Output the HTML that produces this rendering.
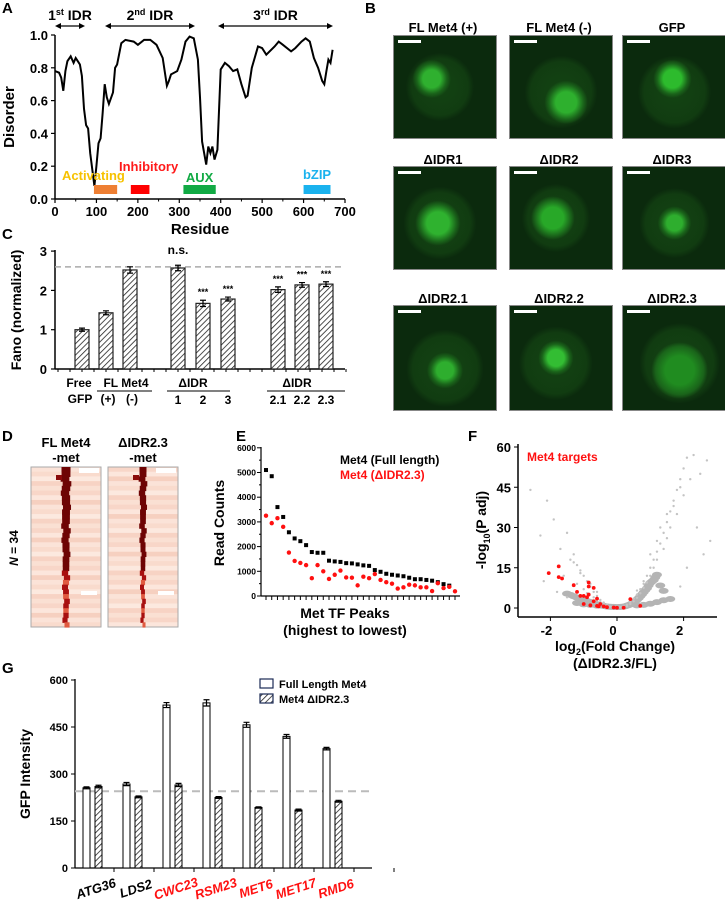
<!DOCTYPE html>
<html><head><meta charset="utf-8">
<style>
html,body{margin:0;padding:0;background:#fff;}
#root{position:relative;width:725px;height:900px;overflow:hidden;font-family:"Liberation Sans",Arial,sans-serif;font-weight:bold;}
.lbl{position:absolute;font-size:15px;font-weight:bold;}
.mic{position:absolute;background:#0c2e0f;border:1px solid #888;overflow:hidden;}
.mic .bar{position:absolute;left:4px;top:4px;width:23px;height:3px;background:#fff;}
.mtitle{position:absolute;font-size:13px;font-weight:bold;text-align:center;width:110px;}
svg text{font-family:"Liberation Sans",Arial,sans-serif;font-weight:bold;}
</style></head>
<body>
<div id="root">
<svg id="svg" width="725" height="900" style="position:absolute;left:0;top:0"></svg>

<div class="lbl" style="left:2px;top:0px">A</div>
<div class="lbl" style="left:365px;top:0px">B</div>
<div class="lbl" style="left:2px;top:226px">C</div>
<div class="lbl" style="left:2px;top:428px">D</div>
<div class="lbl" style="left:236px;top:428px">E</div>
<div class="lbl" style="left:468px;top:428px">F</div>
<div class="lbl" style="left:2px;top:660px">G</div>
<div id="micro"></div>
</div>
<script>
// ---------- DATA ----------
// Panel A
const disorderResidues=[0,10,15,20,25,30,38,45,50,55,60,65,70,75,80,85,90,95,100,105,110,115,120,125,130,140,145,150,160,170,190,200,215,230,245,260,270,275,280,295,305,315,325,335,345,350,355,365,370,375,380,385,392,400,410,420,430,440,450,460,465,475,490,500,510,530,540,550,570,580,595,605,615,625,635,645,650,655,660,665,670];
const disorderValues=[.78,.77,.74,.66,.78,.84,.87,.83,.86,.84,.82,.75,.55,.45,.43,.28,.18,.08,.20,.34,.37,.52,.70,.62,.58,.65,.80,.82,.95,.97,.96,.94,.97,.97,.94,.86,.69,.72,.76,.78,.85,.96,.99,.98,.85,.62,.35,.21,.32,.28,.32,.24,.30,.79,.83,.81,.78,.79,.70,.62,.63,.80,.93,.92,.88,.93,.96,.94,.90,.92,.96,.98,.96,.86,.80,.72,.70,.78,.85,.83,.91];
const domainNames=["Activating","Inhibitory","AUX","bZIP"];
const domainStart=[94,183,310,600];
const domainEnd=[150,228,388,665];
const aXTicks=[0,100,200,300,400,500,600,700];
const aYTicks=[0,0.2,0.4,0.6,0.8,1.0];
// Panel C
const fanoValues=[1.0,1.43,2.52,2.57,1.67,1.78,2.02,2.14,2.16];
const fanoErrors=[0.04,0.05,0.08,0.07,0.08,0.05,0.07,0.06,0.06];
const fanoStars=["","","","n.s.","***","***","***","***","***"];
const cYTicks=[0,1,2,3];
// Panel E
const eBlack=[5100,4850,3600,3200,2580,2330,2220,2060,1780,1750,1750,1430,1400,1380,1330,1320,1280,1240,1220,1050,980,900,860,830,800,740,680,680,650,620,560,480,420];
const eRed=[3250,2950,3150,2800,1760,1420,1340,1250,720,1250,1000,690,860,1030,750,740,430,780,720,890,650,560,500,300,350,460,430,350,350,200,520,320,370,190];
const eYTicks=[0,1000,2000,3000,4000,5000,6000];
// Panel F
const fRedX=[-2.05,-1.75,-1.75,-1.65,-1.3,-1.2,-1.0,-0.85,-0.85,-0.9,-1.0,-0.7,-0.6,-0.5,-0.8,-0.6,-0.4,-0.3,-0.1,0.0,0.2,0.4,0.7,-1.1,-0.7,-0.85,-0.55];
const fRedY=[13,15.5,11.5,11,8.5,6,4.5,9.5,5,4,1.5,7.5,3.5,1.5,1,0.8,0.6,0.3,0.2,0.1,0.1,3.3,0.8,4.5,2.5,8,0.6];
const fGreyX=[-2.6,-2.3,-2.1,-1.9,-1.7,-1.5,-1.4,-1.3,-1.2,-1.1,-1.0,-0.9,-0.8,-0.7,-0.6,-0.5,-0.4,-0.3,-0.2,-0.1,0.1,0.2,0.3,0.4,0.5,0.6,0.7,0.8,0.9,1.0,1.1,1.2,1.3,1.4,1.5,1.6,1.7,1.8,1.9,2.0,2.1,2.3,2.5,2.7,-1.6,-1.2,-1.0,-0.9,-0.7,-0.6,-0.5,-0.4,-0.3,0.3,0.4,0.5,0.6,0.7,0.8,0.9,1.0,1.1,1.2,1.4,1.5,1.6,1.8,2.0,2.2,-1.3,-1.1,-0.8,-0.6,0.6,0.8,1.0,1.2,1.3,1.5,1.7,1.9,2.4,2.8,-2.2,-1.8,-1.5,1.9,2.1,2.6];
const fGreyY=[44,27,40,33,22,28,18,20,16,14,12,10,8,6,4.5,3,2,1,0.5,0.2,0.3,0.6,1.2,2.2,3.5,5,7,9,12,15,18,21,24,28,32,36,40,44,48,52,56,57,50,55,12,9,7,5.5,4,3,2.2,1.5,0.8,0.7,1.5,2.5,3.8,5.5,7.5,9.5,12,15,18,22,26,30,35,42,48,17,13,9,6,6.5,10,20,25,30,35,38,45,30,25,10,6,4,8,15,20];
const fCloudX=[-1.5,-1.4,-1.3,-1.2,-1.1,-1.0,-0.95,-0.9,-0.85,-0.8,-0.75,-0.7,-0.65,-0.6,-0.55,-0.5,-0.45,-0.4,-0.35,-0.3,-0.25,-0.2,-0.15,-0.1,-0.05,0.05,0.1,0.15,0.2,0.25,0.3,0.35,0.4,0.45,0.5,0.55,0.6,0.65,0.7,0.75,0.8,0.85,0.9,0.95,1.0,1.05,1.1,1.15,1.2,1.3,1.4,-1.2,-1.0,-0.8,-0.6,0.6,0.8,1.0,1.2,1.4,1.6];
const fCloudY=[5,4.5,4,3.5,3,2.8,2.5,2.2,2,1.8,1.6,1.4,1.2,1,0.8,0.6,0.5,0.4,0.3,0.2,0.1,0.1,0.05,0.05,0,0,0.05,0.1,0.15,0.3,0.5,0.7,1,1.3,1.7,2.2,2.7,3.3,4,4.7,5.5,6.3,7,8,9,9.5,10,11,12,8,6,1.5,1,0.8,0.5,0.6,0.8,1.2,1.8,2.5,3];
const fYTicks=[0,15,30,45,60];
const fXTicks=[-2,0,2];
// Panel G
const gGenes=["ATG36","LDS2","CWC23","RSM23","MET6","MET17","RMD6"];
const gTarget=[false,false,true,true,true,true,true];
const gFull=[256,268,520,527,457,420,381];
const gFullErr=[3,5,8,10,8,6,4];
const gDel=[260,227,265,225,193,185,213];
const gDelErr=[4,3,5,3,2,3,3];
const gYTicks=[0,150,300,450,600];
const gBaseline=245;

// ---------- HELPERS ----------
const NS="http://www.w3.org/2000/svg";
const svg=document.getElementById('svg');
function mk(tag,attrs,parent,text){const e=document.createElementNS(NS,tag);for(const k in attrs)e.setAttribute(k,attrs[k]);if(text!==undefined)e.textContent=text;(parent||svg).appendChild(e);return e;}
const defs=mk('defs',{});
const pat=mk('pattern',{id:'hatch',width:4,height:4,patternUnits:'userSpaceOnUse',patternTransform:'rotate(45)'},defs);
mk('rect',{width:4,height:4,fill:'#fff'},pat);
mk('line',{x1:0,y1:0,x2:0,y2:4,stroke:'#222','stroke-width':1.6},pat);

// ---------- PANEL A ----------
(function(){
const g=mk('g',{});


const x=v=>55+v*(290/700), y=v=>199-v*164;
mk('line',{x1:55,y1:199,x2:345,y2:199,stroke:'#000','stroke-width':1.5},g);
mk('line',{x1:55,y1:35,x2:55,y2:199,stroke:'#000','stroke-width':1.5},g);
aXTicks.forEach(t=>{mk('line',{x1:x(t),y1:199,x2:x(t),y2:203,stroke:'#000','stroke-width':1.2},g);
 const tx=mk('text',{x:x(t),y:216,'font-size':13,'text-anchor':'middle'},g,String(t));
 
 if(t<700)mk('line',{x1:x(t+50),y1:199,x2:x(t+50),y2:201.5,stroke:'#000'},g);});
aYTicks.forEach(t=>{mk('line',{x1:51,y1:y(t),x2:55,y2:y(t),stroke:'#000','stroke-width':1.2},g);
 mk('text',{x:48,y:y(t)+5,'font-size':13,'text-anchor':'end'},g,t.toFixed(1));});
const xt=mk('text',{x:200,y:234,'font-size':15,'text-anchor':'middle'},g,'Residue');

const yt=mk('text',{x:14,y:117,'font-size':15,'text-anchor':'middle',transform:'rotate(-90 14 117)'},g,'Disorder');

let d='';disorderResidues.forEach((r,i)=>{d+=(i?'L':'M')+x(r).toFixed(1)+','+y(disorderValues[i]).toFixed(1);});
const line=mk('path',{d:d,fill:'none',stroke:'#000','stroke-width':2},g);

const dcol=['#ee7f33','#ff0000','#11aa44','#1ab2ee'];
const tcol=['#f7c200','#ff1a1a','#11aa44','#1ab2ee'];
const lx=[62,119,0,0], ly=[180,171,182,179];
domainNames.forEach((n,i)=>{
 const r=mk('rect',{x:x(domainStart[i]),y:185,width:x(domainEnd[i])-x(domainStart[i]),height:9,fill:dcol[i]},g);
 
 const cx=(x(domainStart[i])+x(domainEnd[i]))/2;
 const t=i<2?mk('text',{x:lx[i],y:ly[i],'font-size':13,fill:tcol[i]},g,n):mk('text',{x:cx,y:ly[i],'font-size':13,fill:tcol[i],'text-anchor':'middle'},g,n);
 
});
const idr=[[55,85,'1','st'],[105,195,'2','nd'],[218,333,'3','rd']];
idr.forEach(a=>{
 mk('line',{x1:a[0]+2,y1:26,x2:a[1]-2,y2:26,stroke:'#000','stroke-width':1.3},g);
 mk('path',{d:`M${a[0]},26 l6,-3 v6z M${a[1]},26 l-6,-3 v6z`,fill:'#000'},g);
 const t=mk('text',{x:(a[0]+a[1])/2,y:20,'font-size':14,'text-anchor':'middle'},g);
 
 t.appendChild(document.createTextNode(a[2]));
 mk('tspan',{'font-size':9,dy:-5},t,a[3]);
 mk('tspan',{dy:5},t,' IDR');
});
})();

// ---------- PANEL C ----------
(function(){
const g=mk('g',{});


const y=v=>369-v*39.3;
const xs=[82,106,130,178,203,228,278,302,326];
mk('line',{x1:55,y1:369,x2:345,y2:369,stroke:'#000','stroke-width':1.5},g);
mk('line',{x1:55,y1:250,x2:55,y2:369,stroke:'#000','stroke-width':1.5},g);
for(let i=0;i<=24;i++){mk('line',{x1:58+i*12,y1:369,x2:58+i*12,y2:372,stroke:'#000'},g);}
cYTicks.forEach(t=>{mk('line',{x1:51,y1:y(t),x2:55,y2:y(t),stroke:'#000','stroke-width':1.2},g);
 mk('text',{x:47,y:y(t)+5,'font-size':13,'text-anchor':'end'},g,String(t));});
const yt=mk('text',{x:21,y:310,'font-size':14,'text-anchor':'middle',transform:'rotate(-90 21 310)'},g,'Fano (normalized)');

mk('line',{x1:55,y1:y(2.6),x2:345,y2:y(2.6),stroke:'#aaa','stroke-width':1.5,'stroke-dasharray':'6,4'},g);
fanoValues.forEach((v,i)=>{
 const b=mk('rect',{x:xs[i]-7,y:y(v),width:14,height:369-y(v),fill:'url(#hatch)',stroke:'#222','stroke-width':1.2},g);
 
 const e=fanoErrors[i];
 mk('path',{d:`M${xs[i]},${y(v+e)}V${y(v-e)}M${xs[i]-3},${y(v+e)}h6M${xs[i]-3},${y(v-e)}h6`,stroke:'#000','stroke-width':1.2},g);
 if(fanoStars[i]){const t=mk('text',{x:xs[i],y:fanoStars[i]==='n.s.'?254:y(v+e)-5,'font-size':fanoStars[i]==='n.s.'?12:9,'text-anchor':'middle'},g,fanoStars[i]);
  }
});
const labs=[[79,387,'Free'],[80,403,'GFP'],[126,387,'FL Met4'],[108,403,'(+)'],[132,403,'(-)'],[193,387,'ΔIDR'],[178,404,'1'],[203,404,'2'],[228,404,'3'],[297,387,'ΔIDR'],[278,404,'2.1'],[302,404,'2.2'],[326,404,'2.3']];
labs.forEach(l=>{const t=mk('text',{x:l[0],y:l[1],'font-size':12,'text-anchor':'middle'},g,l[2]);});
[[97,152],[167,230],[267,345]].forEach(s=>mk('line',{x1:s[0],y1:391,x2:s[1],y2:391,stroke:'#000'},g));
})();

// ---------- PANEL D (heatmaps) ----------
(function(){
const g=mk('g',{});


const shades=['#fbe3d8','#f8d6c8','#fce9df','#f6d0c0','#fae0d3','#f9dbcd','#fce6dc','#f7d3c4'];
[[31,66,'FL Met4'],[108,143,'ΔIDR2.3']].forEach((h,k)=>{
 const x0=h[0],w=70,y0=467,H=160;
 const hb=mk('g',{},g);
 
 
 for(let i=0;i<34;i++){mk('rect',{x:x0,y:y0+i*H/34,width:w,height:H/34+0.5,fill:shades[(i*5+k)%8]},hb);}
 mk('rect',{x:x0,y:y0,width:w,height:H,fill:'none',stroke:'#aaa'},hb);
 for(let i=0;i<34;i++){const off=[0,0,-1,1,0,-1,0,0,1,0][i%10];
  const wd=(k?7:9)-i*0.12;
  const col=i>21?(i%3===0?'#e05a40':'#a81010'):'#6e0404';
  mk('rect',{x:h[1]-wd/2+off,y:y0+i*H/34,width:wd,height:H/34+0.6,fill:col},hb);}
 mk('rect',{x:h[1]-10,y:y0+8,width:6,height:5,fill:'#8a0a0a'},hb);
 mk('rect',{x:x0+50,y:y0+124,width:16,height:4,fill:'#fff'},hb);
 mk('rect',{x:x0+48,y:y0+1,width:20,height:5,fill:'#fff'},hb);
 const t1=mk('text',{x:x0+w/2,y:447,'font-size':13,'text-anchor':'middle'},g,h[2]);
 
 mk('text',{x:x0+w/2,y:462,'font-size':13,'text-anchor':'middle'},g,'-met');
});
const t=mk('text',{x:18,y:548,'font-size':12,'text-anchor':'middle',transform:'rotate(-90 18 548)'},g);

mk('tspan',{'font-style':'italic'},t,'N');mk('tspan',{},t,' = 34');
})();

// ---------- PANEL E ----------
(function(){
const g=mk('g',{});


const y=v=>596-v*24.7/1000;
const x=i=>266+i*(189/(eRed.length-1));
mk('line',{x1:261,y1:596,x2:460,y2:596,stroke:'#000','stroke-width':1.2},g);
mk('line',{x1:261,y1:447,x2:261,y2:596,stroke:'#000','stroke-width':1.2},g);
eYTicks.forEach(t=>{mk('line',{x1:257,y1:y(t),x2:261,y2:y(t),stroke:'#000'},g);
 mk('text',{x:256,y:y(t)+3,'font-size':8.5,'text-anchor':'end'},g,String(t));
 if(t<6000)mk('line',{x1:259,y1:y(t+500),x2:261,y2:y(t+500),stroke:'#000'},g);});
for(let i=0;i<eRed.length;i++)mk('line',{x1:x(i),y1:596,x2:x(i),y2:600,stroke:'#000'},g);
eBlack.forEach((v,i)=>{const r=mk('rect',{x:x(i)-2,y:y(v)-2,width:4,height:4,fill:'#000'},g);});
eRed.forEach((v,i)=>{const c=mk('circle',{cx:x(i),cy:y(v),r:2.2,fill:'#ff1010'},g);});
const yt=mk('text',{x:224,y:523,'font-size':14,'text-anchor':'middle',transform:'rotate(-90 224 523)'},g,'Read Counts');

const xt=mk('text',{x:345,y:618,'font-size':14,'text-anchor':'middle'},g,'Met TF Peaks');

mk('text',{x:345,y:635,'font-size':14,'text-anchor':'middle'},g,'(highest to lowest)');
const l1=mk('text',{x:340,y:464,'font-size':12},g,'Met4 (Full length)');
const l2=mk('text',{x:340,y:479,'font-size':12,fill:'#ff1010'},g,'Met4 (ΔIDR2.3)');
})();

// ---------- PANEL F ----------
(function(){
const g=mk('g',{});


const x=v=>617+v*33.3, y=v=>608-v*(161/60);
mk('line',{x1:518,y1:617,x2:717,y2:617,stroke:'#000','stroke-width':1.5},g);
mk('line',{x1:518,y1:444,x2:518,y2:617,stroke:'#000','stroke-width':1.5},g);
fYTicks.forEach(t=>{mk('line',{x1:514,y1:y(t),x2:518,y2:y(t),stroke:'#000'},g);
 mk('text',{x:511,y:y(t)+5,'font-size':13,'text-anchor':'end'},g,String(t));});
fXTicks.forEach(t=>{mk('line',{x1:x(t),y1:617,x2:x(t),y2:621,stroke:'#000'},g);
 mk('text',{x:x(t)-4,y:635,'font-size':13,'text-anchor':'middle'},g,String(t));});
const cg=mk('g',{},g);

fCloudX.forEach((v,i)=>{mk('ellipse',{cx:x(v),cy:y(fCloudY[i])-1,rx:5,ry:3,fill:'#b4b4b4'},cg);});
fGreyX.forEach((v,i)=>{mk('circle',{cx:x(v),cy:y(fGreyY[i]),r:1.2,fill:'#c4c4c4'},cg);});
fRedX.forEach((v,i)=>{const c=mk('circle',{cx:x(v),cy:y(fRedY[i]),r:1.9,fill:'#ff1010'},g);});
const lt=mk('text',{x:527,y:461,'font-size':12,fill:'#ff1010'},g,'Met4 targets');
const yt=mk('text',{x:486,y:530,'font-size':14,'text-anchor':'middle',transform:'rotate(-90 486 530)'},g);

yt.appendChild(document.createTextNode('-log'));mk('tspan',{'font-size':9,dy:4},yt,'10');mk('tspan',{dy:-4},yt,'(P adj)');
const xt=mk('text',{x:615,y:651,'font-size':14,'text-anchor':'middle'},g);

xt.appendChild(document.createTextNode('log'));mk('tspan',{'font-size':9,dy:4},xt,'2');mk('tspan',{dy:-4},xt,'(Fold Change)');
mk('text',{x:615,y:668,'font-size':14,'text-anchor':'middle'},g,'(ΔIDR2.3/FL)');
})();

// ---------- PANEL G ----------
(function(){
const g=mk('g',{});


const y=v=>868-v*(188/600);
const xc=i=>94+i*40;
mk('line',{x1:75,y1:868,x2:372,y2:868,stroke:'#000','stroke-width':1.3},g);
mk('line',{x1:75,y1:679,x2:75,y2:868,stroke:'#000','stroke-width':1.3},g);
gYTicks.forEach(t=>{mk('line',{x1:71,y1:y(t),x2:75,y2:y(t),stroke:'#000'},g);
 mk('text',{x:68,y:y(t)+4,'font-size':11,'text-anchor':'end'},g,String(t));});
for(let i=0;i<8;i++)mk('line',{x1:114+i*40,y1:868,x2:114+i*40,y2:872,stroke:'#000'},g);
mk('line',{x1:75,y1:y(gBaseline),x2:372,y2:y(gBaseline),stroke:'#bbb','stroke-width':2,'stroke-dasharray':'8,5'},g);
gGenes.forEach((n,i)=>{
 const c=xc(i);
 const b1=mk('rect',{x:c-11,y:y(gFull[i]),width:7,height:868-y(gFull[i]),fill:'#fff',stroke:'#000','stroke-width':1},g);
 
 const b2=mk('rect',{x:c+1,y:y(gDel[i]),width:7,height:868-y(gDel[i]),fill:'url(#hatch)',stroke:'#000','stroke-width':1},g);
 
 [[c-7.5,gFull[i],gFullErr[i]],[c+4.5,gDel[i],gDelErr[i]]].forEach(e=>{
  mk('path',{d:`M${e[0]},${y(e[1]+e[2])}V${y(e[1]-e[2])}M${e[0]-3},${y(e[1]+e[2])}h6M${e[0]-3},${y(e[1]-e[2])}h6`,stroke:'#000','stroke-width':1.2},g);});
 const t=mk('text',{x:c+2,y:893,'font-size':13,'font-style':'italic','text-anchor':'middle',fill:gTarget[i]?'#ff1010':'#000',transform:`rotate(-18 ${c+2} 889)`},g,n);
 
});
const yt=mk('text',{x:30,y:774,'font-size':14,'text-anchor':'middle',transform:'rotate(-90 30 774)'},g,'GFP Intensity');

const lg=mk('g',{},g);
mk('rect',{x:260,y:679,width:13,height:9,fill:'#fff',stroke:'#1a2a55','stroke-width':1.2},lg);
mk('rect',{x:260,y:694,width:13,height:9,fill:'url(#hatch)',stroke:'#1a2a55','stroke-width':1.2},lg);
mk('text',{x:279,y:688,'font-size':11},lg,'Full Length Met4');
mk('text',{x:279,y:703,'font-size':11},lg,'Met4 ΔIDR2.3');
})();

// ---------- PANEL B (microscopy) ----------
(function(){
const micro=document.getElementById('micro');
const cols=[393,509,622], rows=[35,166,305], heads=[20,152,291];
const titles=["FL Met4 (+)","FL Met4 (-)","GFP","ΔIDR1","ΔIDR2","ΔIDR3","ΔIDR2.1","ΔIDR2.2","ΔIDR2.3"];
const blobs=[[37,42,17,'#2fb02f'],[55,65,20,'#2eb02e'],[48,42,19,'#2dbb2d'],[43,55,23,'#2fb22f'],[42,50,23,'#28a828'],[50,55,17,'#2eae2e'],[50,62,17,'#2eae2e'],[45,50,18,'#33bd33'],[55,62,28,'#208c20']];
const halos=[[45,50,45],[50,55,48],[50,55,48],[45,55,46],[45,50,45],[50,55,46],[50,60,48],[45,55,46],[55,55,50]];
titles.forEach((t,i)=>{
 const c=i%3,r=Math.floor(i/3);
 const h=document.createElement('div');h.className='mtitle';
 
 
 h.style.left=(cols[c]-5)+'px';h.style.top=heads[r]+'px';h.textContent=t;micro.appendChild(h);
 const m=document.createElement('div');m.className='mic';
 
 
 m.style.left=cols[c]+'px';m.style.top=rows[r]+'px';m.style.width=(c==2?103:102)+'px';m.style.height=(r==2?104:102)+'px';
 const b=blobs[i],hl=halos[i];
 m.style.background=`radial-gradient(circle at ${b[0]}% ${b[1]}%, ${b[3]} 0%, ${b[3]} ${b[2]*0.6}%, #1a641a ${b[2]}%, transparent ${b[2]+5}%), radial-gradient(circle at ${hl[0]}% ${hl[1]}%, #134413 0%, #113c11 ${hl[2]-8}%, #0b2a0d ${hl[2]}%), #0b2a0d`;
 const sb=document.createElement('div');sb.className='bar';m.appendChild(sb);
 micro.appendChild(m);
});
})();
</script>
</body></html>
